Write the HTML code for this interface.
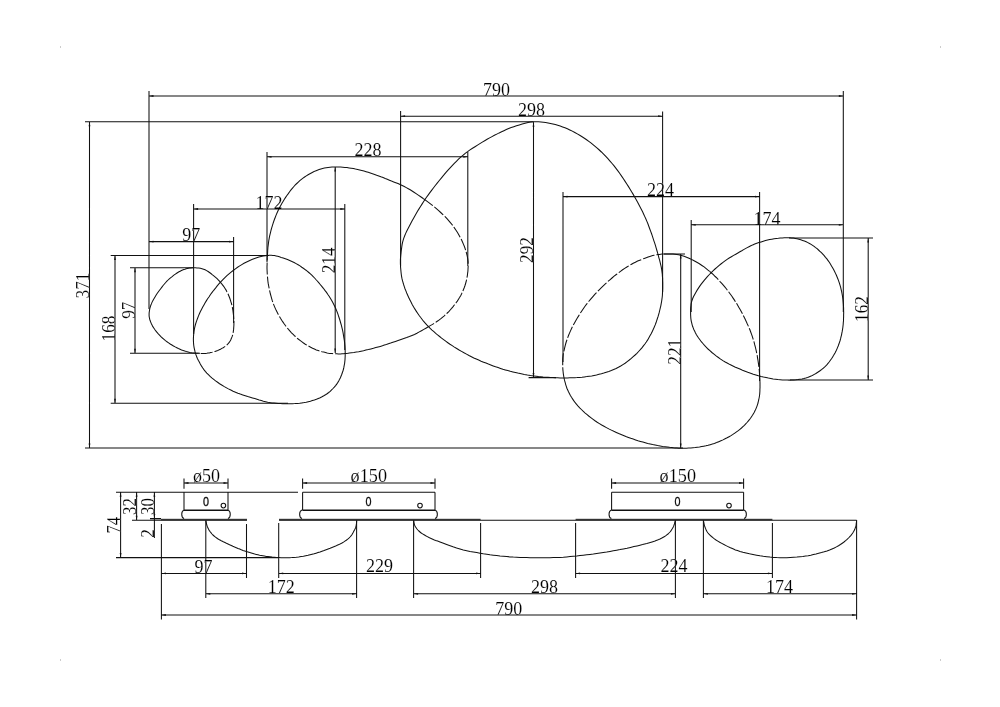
<!DOCTYPE html>
<html><head><meta charset="utf-8"><title>Dimensions</title>
<style>
html,body{margin:0;padding:0;background:#fff}
body{width:1000px;height:707px;overflow:hidden}
svg{display:block}
.g path,.g circle{fill:none;stroke:#111;stroke-width:1.05}
.g path.h{stroke-dasharray:12 2}
.g rect{fill:#333}
.a path{fill:#111;stroke:none}
text{font-family:"Liberation Serif",serif;font-size:19.2px;fill:#000;stroke:#fff;stroke-width:.12px}
svg{will-change:transform}
text.s{font-family:"Liberation Sans",sans-serif;font-size:12.4px;stroke:#151515;stroke-width:.3px}
</style></head><body>
<svg width="1000" height="707" viewBox="0 0 1000 707">
<rect width="1000" height="707" fill="#fff"/>
<g fill="#999"><rect x="60" y="46.5" width="1" height="1"/><rect x="940" y="46.5" width="1" height="1"/><rect x="60" y="659.5" width="1" height="1"/><rect x="940" y="659.5" width="1" height="1"/></g>
<g class="g">
<path d="M149.0,96.0 L843.3,96.0 M149.0,91.0 L149.0,309.0 M843.3,91.0 L843.3,312.0 M89.5,121.7 L89.5,448.0 M85.0,121.7 L533.5,121.7 M85.0,448.0 L683.0,448.0 M400.6,116.2 L662.6,116.2 M400.6,111.0 L400.6,266.0 M662.6,111.5 L662.6,292.0 M267.0,156.8 L467.8,156.8 M267.0,152.0 L267.0,262.0 M467.8,152.0 L467.8,266.0 M193.6,209.0 L344.8,209.0 M193.6,204.0 L193.6,334.0 M344.8,204.0 L344.8,350.0 M149.0,241.6 L233.6,241.6 M233.6,237.0 L233.6,323.0 M563.0,196.6 L759.6,196.6 M563.0,192.0 L563.0,362.0 M759.6,192.0 L759.6,381.0 M691.2,224.8 L843.3,224.8 M691.2,220.0 L691.2,312.0 M335.2,167.0 L335.2,353.0 M533.5,122.3 L533.5,377.6 M528.6,377.6 L556.0,377.6 M680.7,254.0 L680.7,448.0 M664.0,254.0 L685.0,254.0 M868.2,237.9 L868.2,379.9 M789.0,237.9 L873.0,237.9 M790.0,379.9 L873.0,379.9 M115.0,255.5 L115.0,403.2 M110.7,255.5 L269.0,255.5 M110.7,403.2 L288.0,403.2 M135.0,267.8 L135.0,353.3 M130.0,267.8 L193.0,267.8 M130.0,353.3 L200.0,353.3 M116.0,492.3 L298.0,492.3 M116.0,557.6 L278.0,557.6 M120.6,492.3 L120.6,557.6 M136.6,492.3 L136.6,520.2 M132.0,520.2 L247.0,520.2 M279.0,520.2 L856.6,520.2 M154.4,492.3 L154.4,518.6 M154.4,518.6 L154.4,538.0 M150.0,518.6 L161.0,518.6 M184.0,478.4 L184.0,488.8 M228.0,478.4 L228.0,488.8 M184.0,492.3 L184.0,509.8 M228.0,492.3 L228.0,509.8 M184.0,492.3 L228.0,492.3 M184.0,483.0 L228.0,483.0 M184.1,510.0 L227.9,510.0 A3.0,4.4 0 0 1 227.9,518.6 M184.1,510.0 A3.0,4.4 0 0 0 184.1,518.6 M184.0,510.4 L228.0,510.4 M302.6,478.4 L302.6,488.8 M435.0,478.4 L435.0,488.8 M302.6,492.3 L302.6,509.8 M435.0,492.3 L435.0,509.8 M302.6,492.3 L435.0,492.3 M302.6,483.0 L435.0,483.0 M302.0,510.0 L435.0,510.0 A3.0,4.4 0 0 1 435.0,518.6 M302.0,510.0 A3.0,4.4 0 0 0 302.0,518.6 M302.6,510.4 L435.0,510.4 M611.6,478.4 L611.6,488.8 M743.6,478.4 L743.6,488.8 M611.6,492.3 L611.6,509.8 M743.6,492.3 L743.6,509.8 M611.6,492.3 L743.6,492.3 M611.6,483.0 L743.6,483.0 M611.4,510.0 L744.0,510.0 A3.0,4.4 0 0 1 744.0,518.6 M611.4,510.0 A3.0,4.4 0 0 0 611.4,518.6 M611.6,510.4 L743.6,510.4 M161.4,573.4 L246.5,573.4 M161.4,524.0 L161.4,619.5 M246.5,524.0 L246.5,578.0 M205.8,593.8 L356.6,593.8 M205.8,520.2 L205.8,598.0 M356.6,520.2 L356.6,598.0 M278.7,573.4 L480.6,573.4 M278.7,523.0 L278.7,578.0 M480.6,523.0 L480.6,578.0 M413.6,593.8 L675.4,593.8 M413.6,520.2 L413.6,598.0 M675.4,520.2 L675.4,598.0 M575.6,573.4 L772.4,573.4 M575.6,523.0 L575.6,578.0 M772.4,523.0 L772.4,578.0 M703.4,593.8 L856.6,593.8 M703.4,520.2 L703.4,598.0 M856.6,520.2 L856.6,619.5 M161.4,615.0 L856.6,615.0"/>
<path d="M269.4,255.3 L271.2,255.3 L272.9,255.4 L274.5,255.6 L276.1,255.9 L277.7,256.3 L279.4,256.8 L281.2,257.4 L283.2,258.0 L285.3,258.8 L287.5,259.6 L289.7,260.5 L291.9,261.5 L294.1,262.5 L296.1,263.6 L298.1,264.7 L300.0,265.9 L301.8,267.2 L303.7,268.5 L305.4,269.8 L307.2,271.1 L308.8,272.5 L310.4,273.9 L311.8,275.2 L313.2,276.6 L314.6,278.0 L315.9,279.5 L317.3,281.0 L318.7,282.7 L320.2,284.5 L321.8,286.4 L323.4,288.3 L324.9,290.4 L326.5,292.4 L327.9,294.5 L329.3,296.5 L330.5,298.5 L331.7,300.5 L332.8,302.5 L333.8,304.5 L334.8,306.6 L335.8,308.7 L336.7,310.9 L337.6,313.2 L338.4,315.6 L339.2,318.0 L340.0,320.5 L340.7,323.0 L341.4,325.4 L342.0,327.9 L342.6,330.3 L343.1,332.8 L343.5,335.3 L343.9,337.8 L344.3,340.2 L344.6,342.6 L344.8,344.9 L345.0,347.1 L345.1,349.3 L345.2,351.5 L345.2,353.6 L345.2,355.7 L345.1,357.7 L345.0,359.7 L344.8,361.6 L344.6,363.5 L344.2,365.4 L343.9,367.2 L343.5,369.0 L343.0,370.8 L342.4,372.5 L341.8,374.2 L341.1,376.0 L340.4,377.7 L339.6,379.3 L338.7,381.0 L337.7,382.6 L336.7,384.1 L335.6,385.6 L334.3,387.1 L333.0,388.5 L331.6,389.9 L330.2,391.3 L328.7,392.5 L327.1,393.7 L325.5,394.8 L323.8,395.8 L322.0,396.8 L320.2,397.7 L318.3,398.5 L316.4,399.3 L314.4,400.0 L312.4,400.6 L310.4,401.2 L308.3,401.7 L306.2,402.2 L304.1,402.6 L301.8,402.9 L299.6,403.2 L297.3,403.4 L294.8,403.6 L292.4,403.7 L289.9,403.8 L287.4,403.8 L284.9,403.8 L282.6,403.7 L280.4,403.6 L278.2,403.5 L276.1,403.3 L274.0,403.1 L271.9,402.9 L269.8,402.6 L267.7,402.2 L265.6,401.7 L263.4,401.2 L261.3,400.6 L259.2,400.0 L257.0,399.3 L254.8,398.6 L252.5,397.9 L250.2,397.2 L247.7,396.5 L245.3,395.7 L242.8,394.9 L240.3,394.1 L237.9,393.2 L235.5,392.2 L233.1,391.2 L230.8,390.0 L228.4,388.9 L226.1,387.6 L223.9,386.4 L221.7,385.0 L219.6,383.7 L217.6,382.3 L215.6,380.9 L213.7,379.4 L211.8,377.9 L210.1,376.4 L208.4,374.7 L206.8,373.1 L205.3,371.4 L203.9,369.6 L202.6,367.8 L201.4,365.9 L200.3,364.0 L199.3,362.1 L198.3,360.3 L197.4,358.5 L196.7,356.7 L196.0,354.9 L195.4,353.0 L194.9,351.2 L194.5,349.4 L194.1,347.6 L193.8,345.8 L193.6,344.0 L193.5,342.2 L193.4,340.3 L193.4,338.5 L193.5,336.7 L193.6,334.9 L193.8,333.1 L194.0,331.3 L194.3,329.5 L194.7,327.7 L195.1,325.9 L195.6,324.0 L196.2,322.1 L196.9,320.1 L197.7,318.0 L198.5,315.9 L199.4,313.8 L200.4,311.6 L201.5,309.4 L202.6,307.3 L203.8,305.2 L205.0,303.0 L206.3,300.9 L207.6,298.8 L209.1,296.7 L210.5,294.5 L212.1,292.4 L213.7,290.3 L215.5,288.1 L217.2,285.9 L219.1,283.7 L221.0,281.6 L222.9,279.6 L224.9,277.6 L226.9,275.7 L229.0,273.9 L231.1,272.1 L233.2,270.5 L235.4,268.8 L237.6,267.3 L239.7,265.9 L241.8,264.6 L244.0,263.3 L246.1,262.2 L248.2,261.2 L250.3,260.2 L252.5,259.3 L254.6,258.5 L256.7,257.8 L258.9,257.1 L261.1,256.6 L263.3,256.1 L265.4,255.7 L267.4,255.4Z"/>
<path d="M533.5,121.8 L536.1,121.7 L538.6,121.7 L541.0,121.9 L543.4,122.2 L545.7,122.6 L548.1,123.0 L550.5,123.5 L552.9,124.0 L555.3,124.6 L557.7,125.3 L560.2,126.0 L562.6,126.9 L565.0,127.8 L567.4,128.8 L569.8,129.9 L572.3,131.1 L574.8,132.5 L577.3,133.9 L579.7,135.3 L582.1,136.8 L584.4,138.3 L586.6,139.8 L588.8,141.4 L590.9,142.9 L593.0,144.6 L595.1,146.3 L597.2,148.1 L599.3,150.0 L601.4,152.0 L603.6,154.2 L605.8,156.4 L607.9,158.7 L610.0,161.1 L612.1,163.5 L614.1,165.9 L616.0,168.4 L617.9,170.9 L619.8,173.5 L621.6,176.1 L623.4,178.8 L625.1,181.4 L626.8,184.0 L628.5,186.6 L630.1,189.2 L631.6,191.8 L633.2,194.4 L634.7,196.9 L636.1,199.5 L637.5,202.0 L638.8,204.5 L640.1,206.9 L641.4,209.4 L642.6,211.8 L643.7,214.2 L644.8,216.6 L645.9,219.0 L646.9,221.4 L647.9,223.8 L648.8,226.2 L649.7,228.7 L650.6,231.1 L651.5,233.5 L652.3,235.9 L653.1,238.3 L653.9,240.8 L654.7,243.2 L655.5,245.6 L656.2,248.1 L656.9,250.5 L657.6,252.9 L658.3,255.3 L658.9,257.8 L659.6,260.2 L660.2,262.6 L660.8,265.0 L661.3,267.4 L661.7,269.7 L662.0,271.9 L662.3,274.1 L662.4,276.2 L662.6,278.3 L662.6,280.4 L662.7,282.5 L662.7,284.6 L662.7,286.7 L662.7,288.8 L662.6,290.9 L662.5,293.1 L662.4,295.2 L662.2,297.3 L661.9,299.4 L661.6,301.5 L661.2,303.7 L660.8,305.8 L660.3,307.9 L659.8,310.0 L659.3,312.2 L658.7,314.3 L658.1,316.4 L657.4,318.5 L656.7,320.6 L656.0,322.8 L655.2,324.9 L654.3,327.0 L653.4,329.1 L652.4,331.2 L651.3,333.4 L650.1,335.6 L648.9,337.8 L647.7,339.9 L646.3,342.0 L644.9,344.0 L643.4,345.9 L641.9,347.9 L640.3,349.7 L638.6,351.5 L636.9,353.3 L635.1,355.0 L633.2,356.7 L631.3,358.4 L629.3,360.0 L627.2,361.6 L625.1,363.2 L622.9,364.6 L620.7,366.0 L618.4,367.3 L616.1,368.5 L613.7,369.5 L611.3,370.5 L608.8,371.4 L606.3,372.2 L603.8,373.0 L601.4,373.7 L599.0,374.3 L596.5,374.9 L594.1,375.4 L591.7,375.9 L589.3,376.2 L586.8,376.6 L584.4,376.9 L582.0,377.2 L579.5,377.4 L577.1,377.6 L574.7,377.7 L572.2,377.8 L569.8,377.8 L567.4,377.9 L565.0,377.9 L562.6,377.9 L560.1,377.9 L557.7,377.8 L555.3,377.7 L552.9,377.6 L550.5,377.5 L548.1,377.3 L545.6,377.2 L543.1,377.0 L540.7,376.7 L538.4,376.5 L536.1,376.2 L534.0,376.0 L532.1,375.8 L530.5,375.6 L528.9,375.3 L527.4,375.1 L525.9,374.8 L524.2,374.5 L522.3,374.1 L520.1,373.6 L517.8,373.1 L515.4,372.5 L512.9,371.9 L510.3,371.3 L507.8,370.6 L505.3,369.9 L502.9,369.2 L500.5,368.4 L498.1,367.6 L495.6,366.8 L493.2,365.9 L490.8,365.0 L488.4,364.1 L486.0,363.1 L483.6,362.2 L481.1,361.2 L478.7,360.1 L476.3,359.0 L473.8,357.9 L471.4,356.7 L469.0,355.5 L466.5,354.1 L464.0,352.8 L461.5,351.4 L459.1,350.0 L456.7,348.5 L454.4,347.1 L452.2,345.6 L450.0,344.2 L447.8,342.7 L445.7,341.2 L443.6,339.6 L441.6,338.1 L439.6,336.5 L437.6,334.9 L435.7,333.3 L433.9,331.7 L432.0,330.1 L430.2,328.4 L428.5,326.7 L426.8,324.9 L425.2,323.1 L423.5,321.2 L422.0,319.2 L420.5,317.3 L419.0,315.3 L417.6,313.2 L416.2,311.1 L414.8,308.9 L413.5,306.7 L412.2,304.4 L411.0,302.1 L409.8,299.7 L408.7,297.4 L407.7,295.2 L406.7,293.0 L405.9,290.9 L405.0,288.7 L404.3,286.6 L403.6,284.5 L403.0,282.4 L402.4,280.3 L401.9,278.2 L401.5,276.0 L401.2,273.8 L401.0,271.7 L400.8,269.6 L400.6,267.5 L400.5,265.5 L400.4,263.6 L400.4,261.8 L400.4,260.1 L400.5,258.3 L400.6,256.6 L400.8,254.8 L401.0,252.9 L401.2,250.9 L401.5,248.9 L401.8,246.8 L402.1,244.7 L402.5,242.6 L403.1,240.3 L403.8,238.1 L404.7,235.8 L405.7,233.4 L406.8,231.0 L408.1,228.5 L409.4,226.0 L410.7,223.5 L412.0,221.1 L413.3,218.7 L414.7,216.2 L416.1,213.8 L417.5,211.3 L419.0,208.9 L420.5,206.5 L422.0,204.1 L423.5,201.8 L425.0,199.5 L426.5,197.3 L428.1,195.1 L429.7,192.9 L431.4,190.6 L433.2,188.2 L435.1,185.7 L437.2,183.1 L439.3,180.5 L441.5,177.8 L443.7,175.2 L445.8,172.6 L448.0,170.2 L450.1,167.9 L452.2,165.6 L454.3,163.4 L456.4,161.3 L458.5,159.2 L460.7,157.2 L462.9,155.3 L465.2,153.4 L467.6,151.7 L470.0,149.9 L472.5,148.3 L475.0,146.7 L477.5,145.1 L479.9,143.6 L482.3,142.1 L484.7,140.7 L487.1,139.3 L489.6,137.9 L492.0,136.6 L494.4,135.3 L496.8,134.1 L499.2,132.9 L501.6,131.8 L503.9,130.7 L506.3,129.6 L508.7,128.6 L511.2,127.6 L513.8,126.7 L516.5,125.8 L519.3,124.9 L522.2,124.1 L525.1,123.3 L528.0,122.6 L530.8,122.1Z"/>
<path d="M782.4,237.9 L784.3,237.8 L786.2,237.7 L788.0,237.7 L789.8,237.8 L791.6,237.9 L793.4,238.1 L795.2,238.4 L797.0,238.8 L798.9,239.2 L800.8,239.8 L802.6,240.4 L804.4,241.1 L806.2,241.8 L807.9,242.6 L809.5,243.5 L811.1,244.4 L812.6,245.4 L814.1,246.4 L815.6,247.6 L817.1,248.7 L818.5,250.0 L819.9,251.3 L821.4,252.7 L822.8,254.2 L824.2,255.7 L825.5,257.3 L826.9,258.9 L828.1,260.6 L829.3,262.3 L830.4,264.1 L831.5,265.9 L832.6,267.7 L833.6,269.6 L834.6,271.5 L835.5,273.4 L836.4,275.3 L837.2,277.2 L838.0,279.2 L838.7,281.2 L839.4,283.2 L840.0,285.2 L840.6,287.2 L841.1,289.3 L841.6,291.4 L842.0,293.5 L842.4,295.6 L842.7,297.7 L843.0,299.9 L843.2,302.0 L843.4,304.1 L843.5,306.3 L843.6,308.5 L843.6,310.7 L843.7,312.8 L843.6,314.9 L843.6,316.9 L843.5,318.8 L843.5,320.7 L843.3,322.5 L843.2,324.3 L843.0,326.0 L842.8,327.8 L842.5,329.6 L842.2,331.4 L841.8,333.3 L841.5,335.1 L841.0,336.9 L840.6,338.7 L840.1,340.5 L839.5,342.3 L838.9,344.0 L838.3,345.7 L837.6,347.4 L836.9,349.1 L836.1,350.8 L835.3,352.4 L834.4,354.0 L833.5,355.6 L832.5,357.2 L831.5,358.8 L830.4,360.3 L829.3,361.8 L828.2,363.2 L827.0,364.6 L825.8,365.9 L824.5,367.1 L823.1,368.3 L821.8,369.4 L820.4,370.5 L818.9,371.5 L817.4,372.5 L815.9,373.5 L814.3,374.4 L812.7,375.3 L811.1,376.1 L809.4,376.8 L807.6,377.5 L805.8,378.1 L803.9,378.6 L802.0,379.0 L799.9,379.3 L797.9,379.6 L795.8,379.8 L793.7,379.9 L791.5,380.0 L789.3,380.1 L787.1,380.0 L784.8,380.0 L782.5,379.9 L780.2,379.7 L777.9,379.5 L775.5,379.2 L773.1,378.9 L770.8,378.5 L768.4,378.1 L766.0,377.6 L763.5,377.1 L761.0,376.5 L758.5,375.8 L755.9,375.0 L753.3,374.2 L750.6,373.3 L747.8,372.3 L745.1,371.2 L742.5,370.2 L739.9,369.1 L737.4,368.0 L734.9,366.9 L732.4,365.7 L730.0,364.6 L727.6,363.3 L725.2,362.0 L722.9,360.6 L720.6,359.1 L718.4,357.5 L716.1,355.9 L714.0,354.2 L711.9,352.5 L709.9,350.7 L708.0,349.0 L706.2,347.2 L704.5,345.4 L702.9,343.5 L701.3,341.7 L699.9,339.8 L698.6,338.0 L697.4,336.2 L696.3,334.5 L695.4,332.8 L694.6,331.1 L693.8,329.5 L693.2,327.9 L692.6,326.3 L692.1,324.6 L691.7,322.9 L691.3,321.3 L691.0,319.6 L690.8,318.0 L690.7,316.3 L690.6,314.6 L690.6,312.9 L690.6,311.1 L690.6,309.4 L690.7,307.6 L690.9,305.8 L691.1,303.9 L691.5,302.1 L692.1,300.2 L692.8,298.3 L693.7,296.3 L694.7,294.4 L695.8,292.4 L697.0,290.4 L698.3,288.4 L699.6,286.4 L701.0,284.4 L702.6,282.4 L704.2,280.4 L705.9,278.4 L707.6,276.4 L709.4,274.5 L711.2,272.6 L713.0,270.8 L715.0,269.0 L716.9,267.3 L718.9,265.6 L720.9,264.0 L723.0,262.4 L725.0,260.9 L727.1,259.4 L729.2,258.0 L731.4,256.7 L733.6,255.4 L735.8,254.2 L737.9,253.0 L739.9,251.8 L741.8,250.7 L743.6,249.6 L745.4,248.6 L747.2,247.6 L749.0,246.7 L750.8,245.8 L752.7,244.9 L754.7,244.1 L756.8,243.3 L758.9,242.6 L761.1,241.9 L763.3,241.2 L765.5,240.6 L767.6,240.1 L769.7,239.6 L771.9,239.2 L774.1,238.8 L776.2,238.5 L778.3,238.3 L780.4,238.0Z"/>
<path class="h" d="M220.3,282.1 L221.3,283.3 L222.3,284.6 L223.3,285.9 L224.3,287.3 L225.2,288.7 L226.1,290.1 L226.9,291.7 L227.7,293.2 L228.4,294.8 L229.1,296.5 L229.8,298.3 L230.4,300.1 L230.9,301.8 L231.5,303.6 L231.9,305.3 L232.3,307.0 L232.6,308.6 L232.9,310.3 L233.1,311.9 L233.3,313.5 L233.5,315.1 L233.6,316.6 L233.7,318.1 L233.8,319.5 L233.9,320.9 L233.9,322.3 L233.9,323.7 L233.9,325.1 L233.8,326.5 L233.7,327.9 L233.6,329.4 L233.4,330.9 L233.2,332.3 L232.9,333.7 L232.6,335.1 L232.2,336.4 L231.7,337.6 L231.2,338.8 L230.7,340.0 L230.1,341.1 L229.4,342.2 L228.6,343.2 L227.7,344.2 L226.7,345.1 L225.6,346.0 L224.4,346.9 L223.2,347.7 L221.8,348.4 L220.5,349.2 L219.2,349.8 L217.8,350.4 L216.4,350.9 L215.0,351.4 L213.5,351.9 L212.1,352.3 L210.7,352.6 L209.3,352.9 L208.0,353.1 L206.8,353.3 L205.6,353.4 L204.5,353.5 L203.2,353.5 L201.9,353.5 L200.5,353.4 L198.9,353.3 L197.2,353.2"/>
<path d="M197.2,353.2 L195.4,353.1 L193.5,352.9 L191.7,352.7 L189.8,352.4 L188.1,352.0 L186.4,351.6 L184.8,351.1 L183.2,350.5 L181.6,349.9 L180.0,349.2 L178.4,348.5 L176.8,347.7 L175.2,346.9 L173.5,346.0 L171.9,345.0 L170.2,344.0 L168.6,342.9 L167.0,341.8 L165.5,340.6 L164.0,339.3 L162.4,338.0 L160.9,336.6 L159.5,335.1 L158.1,333.6 L156.8,332.1 L155.6,330.7 L154.6,329.3 L153.6,327.8 L152.7,326.4 L152.0,324.9 L151.3,323.5 L150.7,322.1 L150.2,320.8 L149.8,319.5 L149.5,318.3 L149.3,317.1 L149.1,316.0 L149.1,314.8 L149.1,313.6 L149.2,312.3 L149.4,311.0 L149.6,309.6 L149.9,308.2 L150.3,306.8 L150.8,305.3 L151.4,303.9 L152.0,302.4 L152.7,300.9 L153.5,299.4 L154.4,297.9 L155.3,296.4 L156.3,294.8 L157.3,293.3 L158.4,291.8 L159.5,290.3 L160.7,288.7 L161.9,287.1 L163.1,285.5 L164.4,284.0 L165.7,282.5 L166.9,281.2 L168.1,280.0 L169.3,278.8 L170.5,277.8 L171.8,276.8 L173.0,275.8 L174.2,274.9 L175.4,274.1 L176.6,273.3 L177.8,272.5 L179.0,271.8 L180.2,271.2 L181.4,270.6 L182.6,270.1 L183.8,269.6 L185.0,269.2 L186.1,268.8 L187.3,268.5 L188.5,268.2 L189.7,268.0 L190.9,267.9 L192.3,267.8 L193.8,267.8 L195.4,267.8 L197.0,267.9 L198.7,268.1 L200.4,268.3 L202.0,268.7 L203.6,269.2 L205.1,269.8 L206.6,270.6 L208.1,271.5 L209.5,272.5 L210.9,273.5 L212.2,274.6 L213.5,275.6 L214.7,276.6 L215.9,277.6 L217.1,278.7 L218.2,279.8 L219.2,280.9 L220.3,282.1"/>
<path class="h" d="M423.2,198.5 L425.8,200.4 L428.5,202.3 L431.1,204.3 L433.7,206.4 L436.1,208.4 L438.4,210.4 L440.7,212.5 L442.9,214.6 L445.1,216.7 L447.2,218.9 L449.1,221.1 L451.0,223.3 L452.8,225.6 L454.4,227.9 L456.0,230.2 L457.5,232.5 L458.9,234.9 L460.2,237.3 L461.4,239.6 L462.5,242.0 L463.5,244.4 L464.5,246.8 L465.3,249.2 L466.0,251.5 L466.7,253.8 L467.2,256.0 L467.6,258.1 L467.9,260.0 L468.1,261.9 L468.1,263.7 L468.2,265.5 L468.1,267.4 L468.0,269.3 L467.9,271.3 L467.6,273.3 L467.4,275.3 L467.0,277.4 L466.6,279.4 L466.2,281.5 L465.6,283.5 L465.0,285.5 L464.3,287.5 L463.5,289.5 L462.7,291.5 L461.8,293.4 L460.8,295.4 L459.7,297.3 L458.5,299.2 L457.3,301.1 L455.9,303.0 L454.5,304.8 L453.1,306.6 L451.6,308.4 L450.2,310.0 L448.8,311.6 L447.3,313.0 L445.8,314.4 L444.3,315.8 L442.7,317.1 L441.2,318.4 L439.6,319.6 L438.0,320.8 L436.5,321.8 L434.9,322.9 L433.3,323.9 L431.6,324.9 L429.8,325.9"/>
<path d="M429.8,325.9 L427.9,327.0 L425.9,328.2 L423.8,329.4 L421.5,330.7 L419.3,331.9 L416.9,333.2 L414.5,334.4 L412.0,335.5 L409.4,336.6 L406.7,337.6 L403.8,338.6 L401.0,339.6 L398.1,340.6 L395.4,341.5 L392.9,342.3 L390.6,343.1 L388.4,343.8 L386.4,344.5 L384.4,345.1 L382.4,345.8 L380.3,346.4 L378.1,347.0 L375.8,347.6 L373.4,348.3 L370.9,348.9 L368.4,349.6 L365.9,350.1 L363.5,350.7 L361.1,351.2 L358.7,351.7 L356.3,352.1 L353.9,352.5 L351.5,352.8 L349.3,353.1 L347.1,353.4"/>
<path class="h" d="M347.1,353.4 L345.2,353.6 L343.5,353.8 L342.0,353.8 L340.6,353.9 L339.3,353.9 L338.1,353.9 L336.9,353.8 L335.6,353.8 L334.4,353.8 L333.2,353.7 L332.1,353.6 L331.0,353.5 L329.8,353.4 L328.5,353.2 L327.1,352.9 L325.5,352.5 L323.8,352.1 L322.0,351.7 L320.1,351.1 L318.2,350.5 L316.3,349.9 L314.4,349.1 L312.6,348.3 L310.7,347.3 L308.9,346.3 L307.1,345.3 L305.3,344.2 L303.5,343.0 L301.7,341.7 L300.0,340.4 L298.2,339.0 L296.5,337.5 L294.8,336.0 L293.2,334.4 L291.5,332.8 L290.0,331.1 L288.5,329.4 L287.0,327.6 L285.6,325.8 L284.3,324.0 L283.0,322.1 L281.7,320.2 L280.5,318.3 L279.4,316.4 L278.3,314.5 L277.3,312.6 L276.3,310.6 L275.4,308.6 L274.5,306.6 L273.7,304.6 L272.9,302.5 L272.2,300.4 L271.6,298.3 L271.0,296.1 L270.4,294.0 L269.9,291.8 L269.4,289.7 L269.0,287.6 L268.6,285.5 L268.2,283.4 L267.9,281.2 L267.7,279.1 L267.5,277.0 L267.3,274.9 L267.2,272.8 L267.1,270.7 L267.0,268.6 L267.0,266.6 L267.1,264.4 L267.1,262.3 L267.2,260.0 L267.3,257.6"/>
<path d="M267.3,257.6 L267.4,255.2 L267.6,252.6 L267.7,250.1 L267.9,247.5 L268.2,245.1 L268.5,242.7 L268.8,240.5 L269.2,238.3 L269.6,236.2 L270.1,234.1 L270.6,232.1 L271.1,230.0 L271.7,227.9 L272.3,225.8 L273.0,223.6 L273.7,221.5 L274.5,219.3 L275.3,217.2 L276.1,215.1 L277.0,213.0 L277.9,211.0 L278.9,209.0 L279.9,207.0 L281.0,205.0 L282.1,203.1 L283.2,201.2 L284.4,199.3 L285.6,197.4 L286.9,195.5 L288.3,193.6 L289.6,191.7 L291.0,189.9 L292.5,188.1 L293.9,186.5 L295.3,184.9 L296.8,183.5 L298.3,182.1 L299.8,180.7 L301.4,179.4 L303.0,178.2 L304.6,177.0 L306.3,175.9 L308.1,174.7 L309.9,173.7 L311.8,172.7 L313.6,171.8 L315.5,170.9 L317.3,170.2 L319.1,169.6 L320.9,169.0 L322.6,168.5 L324.4,168.1 L326.2,167.8 L328.1,167.5 L330.0,167.3 L332.0,167.1 L334.1,167.0 L336.2,167.0 L338.4,167.0 L340.6,167.1 L342.8,167.2 L344.9,167.4 L347.0,167.6 L349.1,167.9 L351.2,168.2 L353.4,168.6 L355.5,169.1 L357.6,169.5 L359.7,170.0 L361.8,170.5 L364.0,171.1 L366.1,171.7 L368.2,172.3 L370.3,173.0 L372.5,173.7 L374.6,174.4 L376.7,175.2 L378.8,175.9 L380.9,176.8 L383.1,177.6 L385.2,178.5 L387.3,179.3 L389.4,180.2 L391.5,181.1 L393.7,181.9 L395.8,182.7 L398.0,183.6 L400.1,184.5 L402.2,185.5 L404.3,186.5 L406.3,187.6 L408.3,188.7 L410.2,189.8 L412.1,191.0 L414.0,192.2 L416.1,193.6 L418.3,195.1 L420.7,196.7 L423.2,198.5"/>
<path class="h" d="M709.6,271.3 L711.5,273.0 L713.4,274.7 L715.2,276.5 L717.0,278.2 L718.7,280.0 L720.3,281.8 L722.0,283.6 L723.5,285.4 L725.0,287.2 L726.5,289.0 L727.9,290.9 L729.3,292.7 L730.6,294.5 L731.9,296.3 L733.1,298.1 L734.3,299.9 L735.5,301.8 L736.7,303.6 L737.8,305.5 L738.9,307.4 L740.0,309.3 L741.1,311.3 L742.2,313.3 L743.2,315.3 L744.2,317.3 L745.2,319.3 L746.2,321.4 L747.1,323.5 L748.1,325.6 L749.0,327.7 L749.9,329.8 L750.7,332.0 L751.5,334.1 L752.2,336.2 L752.9,338.4 L753.6,340.5 L754.2,342.6 L754.7,344.7 L755.3,346.9 L755.8,349.0 L756.3,351.1 L756.7,353.3 L757.2,355.5 L757.5,357.7 L757.9,359.8 L758.2,361.9 L758.5,363.8 L758.7,365.6 L759.0,367.3 L759.1,368.9 L759.3,370.5 L759.4,372.1 L759.5,373.7 L759.6,375.4"/>
<path d="M759.6,375.4 L759.7,377.2 L759.8,379.0 L759.9,380.8 L760.0,382.6 L760.0,384.4 L760.0,386.2 L760.0,387.9 L759.9,389.5 L759.9,391.1 L759.8,392.6 L759.7,394.1 L759.5,395.5 L759.3,397.0 L759.0,398.5 L758.7,400.0 L758.3,401.5 L758.0,403.0 L757.5,404.6 L757.0,406.1 L756.4,407.6 L755.8,409.1 L755.1,410.6 L754.3,412.2 L753.4,413.7 L752.5,415.2 L751.5,416.7 L750.5,418.2 L749.4,419.7 L748.2,421.1 L747.0,422.5 L745.7,423.9 L744.4,425.3 L742.9,426.7 L741.5,428.0 L739.9,429.3 L738.3,430.6 L736.5,431.9 L734.8,433.1 L732.9,434.4 L731.0,435.6 L729.1,436.7 L727.1,437.8 L725.1,438.8 L723.0,439.9 L720.9,440.8 L718.8,441.7 L716.6,442.6 L714.4,443.4 L712.3,444.1 L710.2,444.7 L708.1,445.3 L705.9,445.8 L703.8,446.2 L701.7,446.6 L699.5,447.0 L697.4,447.3 L695.2,447.6 L693.0,447.8 L690.8,448.0 L688.6,448.1 L686.4,448.2 L684.3,448.3 L682.3,448.3 L680.4,448.3 L678.6,448.2 L676.9,448.1 L675.2,448.0 L673.5,447.8 L671.6,447.5 L669.6,447.3 L667.4,447.0 L665.1,446.7 L662.6,446.4 L660.1,446.0 L657.6,445.6 L655.1,445.1 L652.6,444.6 L650.2,444.0 L647.7,443.5 L645.3,442.8 L642.9,442.1 L640.4,441.4 L638.0,440.7 L635.6,439.9 L633.2,439.1 L630.8,438.3 L628.4,437.4 L625.9,436.5 L623.5,435.5 L621.1,434.5 L618.7,433.5 L616.3,432.4 L613.8,431.3 L611.3,430.1 L608.8,428.9 L606.4,427.6 L604.0,426.3 L601.7,425.0 L599.4,423.6 L597.2,422.2 L595.0,420.7 L592.8,419.1 L590.8,417.6 L588.7,416.0 L586.8,414.4 L584.9,412.8 L583.1,411.2 L581.4,409.5 L579.7,407.8 L578.1,406.1 L576.6,404.4 L575.2,402.7 L573.9,400.9 L572.7,399.1 L571.5,397.3 L570.4,395.5 L569.5,393.7 L568.5,391.8 L567.7,390.0 L566.9,388.2 L566.3,386.4 L565.7,384.6 L565.2,382.7 L564.7,380.9 L564.3,379.1"/>
<path class="h" d="M564.3,379.1 L563.9,377.3 L563.6,375.5 L563.3,373.6 L563.1,371.8 L562.9,369.9 L562.8,368.1 L562.7,366.3 L562.7,364.5 L562.7,362.8 L562.7,361.2 L562.7,359.6 L562.8,358.0 L563.0,356.3 L563.2,354.5 L563.6,352.5 L564.1,350.3 L564.6,348.0 L565.2,345.6 L565.9,343.0 L566.7,340.5 L567.6,338.0 L568.5,335.5 L569.5,333.1 L570.6,330.6 L571.7,328.2 L572.9,325.8 L574.2,323.4 L575.6,320.9 L577.0,318.5 L578.5,316.1 L580.0,313.6 L581.6,311.2 L583.3,308.7 L585.0,306.3 L586.8,303.9 L588.7,301.5 L590.7,299.1 L592.7,296.8 L594.8,294.4 L597.0,292.1 L599.2,289.9 L601.4,287.7 L603.5,285.6 L605.6,283.6 L607.8,281.6 L609.9,279.8 L612.0,278.0 L614.1,276.2 L616.3,274.5 L618.4,272.9 L620.5,271.3 L622.6,269.8 L624.7,268.4 L626.9,267.0 L629.0,265.7 L631.1,264.5 L633.2,263.3 L635.4,262.2 L637.6,261.1 L639.8,260.2 L642.1,259.3 L644.2,258.4 L646.2,257.7 L648.1,257.0 L649.8,256.4 L651.3,256.0 L652.7,255.6 L654.0,255.3 L655.3,255.0 L656.6,254.8 L658.0,254.6"/>
<path d="M658.0,254.6 L659.4,254.4 L660.7,254.2 L662.0,254.1 L663.3,254.0 L664.7,253.9 L666.2,253.9 L667.7,253.9 L669.4,253.9 L671.1,254.0 L673.0,254.1 L674.9,254.3 L676.8,254.5 L678.6,254.8 L680.5,255.2 L682.3,255.7 L684.1,256.3 L685.9,257.0 L687.8,257.7 L689.6,258.5 L691.4,259.4 L693.2,260.3 L695.0,261.3 L696.8,262.3 L698.6,263.3 L700.5,264.5 L702.3,265.7 L704.1,266.9 L705.9,268.3 L707.7,269.8 L709.6,271.3"/>
<path d="M205.8,520.4 L206.1,521.5 L206.3,522.6 L206.5,523.7 L206.7,524.8 L207.1,525.9 L207.5,527.0 L208.1,528.2 L208.7,529.4 L209.4,530.6 L210.2,531.8 L211.1,532.9 L212.0,534.0 L213.0,535.0 L214.1,536.0 L215.2,536.9 L216.4,537.8 L217.7,538.7 L219.0,539.5 L220.4,540.3 L221.8,541.1 L223.3,541.8 L224.9,542.5 L226.4,543.3 L228.0,544.0 L229.6,544.8 L231.3,545.5 L232.9,546.3 L234.6,547.1 L236.3,547.8 L238.0,548.5 L239.7,549.1 L241.3,549.8 L243.0,550.4 L244.7,550.9 L246.3,551.5 L248.0,552.0 L249.7,552.5 L251.3,553.0 L253.0,553.5 L254.7,554.0 L256.3,554.4 L258.0,554.8 L259.6,555.2 L261.2,555.5 L262.8,555.8 L264.4,556.1 L266.2,556.4 L268.0,556.6 L270.0,556.8 L272.1,557.1 L274.3,557.3 L276.6,557.5 L278.8,557.6 L281.0,557.7 L283.2,557.8 L285.3,557.8 L287.4,557.8 L289.6,557.7 L291.8,557.6 L294.0,557.4 L296.3,557.2 L298.7,556.9 L301.1,556.5 L303.4,556.2 L305.8,555.7 L308.0,555.3 L310.1,554.8 L312.1,554.3 L314.1,553.8 L316.1,553.2 L318.0,552.6 L320.0,552.0 L322.0,551.3 L324.1,550.6 L326.1,549.8 L328.1,549.0 L330.1,548.3 L332.0,547.5 L333.8,546.8 L335.6,546.1 L337.2,545.3 L338.9,544.6 L340.5,543.8 L342.0,543.0 L343.5,542.1 L344.9,541.1 L346.3,540.2 L347.7,539.1 L348.9,538.1 L350.0,537.0 L351.0,535.9 L351.9,534.7 L352.6,533.4 L353.3,532.2 L353.9,531.1 L354.5,530.0 L355.0,529.0 L355.4,528.2 L355.7,527.4 L355.9,526.6 L356.1,525.8 L356.3,525.0 L356.4,524.2 L356.5,523.4 L356.5,522.7 L356.6,521.9 L356.6,521.2 L356.6,520.4"/>
<path d="M413.6,520.4 L413.8,521.3 L413.9,522.3 L414.1,523.2 L414.3,524.1 L414.6,525.0 L415.0,526.0 L415.6,527.0 L416.3,528.0 L417.0,529.0 L417.9,530.0 L418.9,531.0 L420.0,532.0 L421.2,533.0 L422.6,533.9 L424.1,534.8 L425.7,535.8 L427.3,536.6 L429.0,537.5 L430.6,538.3 L432.2,539.0 L433.8,539.7 L435.6,540.4 L437.6,541.1 L440.0,542.0 L442.8,543.1 L446.0,544.3 L449.4,545.5 L453.0,546.8 L456.6,548.0 L460.0,549.0 L463.3,549.9 L466.7,550.7 L470.0,551.4 L473.3,552.0 L476.7,552.6 L480.0,553.2 L483.3,553.8 L486.7,554.3 L490.0,554.8 L493.3,555.2 L496.7,555.6 L500.0,556.0 L503.3,556.3 L506.7,556.6 L510.0,556.9 L513.3,557.1 L516.7,557.2 L520.0,557.4 L523.3,557.5 L526.7,557.6 L530.0,557.7 L533.3,557.7 L536.7,557.7 L540.0,557.7 L543.3,557.7 L546.7,557.7 L550.0,557.7 L553.3,557.6 L556.7,557.5 L560.0,557.4 L563.3,557.2 L566.7,556.9 L570.0,556.6 L573.3,556.3 L576.7,556.0 L580.0,555.6 L583.3,555.2 L586.7,554.8 L590.0,554.4 L593.3,554.0 L596.7,553.5 L600.0,553.0 L603.3,552.5 L606.7,552.0 L610.0,551.4 L613.3,550.8 L616.7,550.2 L620.0,549.6 L623.4,548.9 L627.0,548.2 L630.5,547.4 L633.9,546.6 L637.1,545.9 L640.0,545.2 L642.5,544.6 L644.7,544.0 L646.8,543.5 L648.6,543.0 L650.3,542.5 L652.0,542.0 L653.6,541.5 L655.0,541.1 L656.2,540.6 L657.5,540.1 L658.7,539.6 L660.0,539.0 L661.4,538.3 L662.8,537.5 L664.2,536.7 L665.6,535.9 L666.8,534.9 L668.0,534.0 L669.0,533.0 L670.0,532.0 L670.9,530.9 L671.6,529.8 L672.4,528.6 L673.0,527.5 L673.6,526.4 L674.0,525.2 L674.4,524.0 L674.7,522.8 L675.0,521.6 L675.4,520.4"/>
<path d="M703.4,520.4 L703.6,521.3 L703.7,522.2 L703.9,523.1 L704.0,524.0 L704.3,525.0 L704.6,526.0 L705.0,527.1 L705.4,528.2 L705.9,529.4 L706.4,530.6 L707.1,531.8 L708.0,533.0 L709.0,534.2 L710.2,535.3 L711.5,536.5 L712.9,537.7 L714.4,538.9 L716.0,540.0 L717.8,541.1 L719.7,542.3 L721.8,543.4 L723.9,544.5 L726.0,545.6 L728.0,546.6 L729.9,547.5 L731.7,548.3 L733.5,549.1 L735.4,549.9 L737.5,550.6 L740.0,551.4 L742.9,552.2 L746.1,553.0 L749.5,553.8 L753.0,554.5 L756.6,555.2 L760.0,555.8 L763.3,556.3 L766.7,556.7 L770.0,557.1 L773.3,557.4 L776.7,557.6 L780.0,557.7 L783.4,557.7 L786.8,557.7 L790.2,557.5 L793.6,557.3 L796.9,557.1 L800.0,556.8 L802.9,556.5 L805.6,556.1 L808.2,555.7 L810.8,555.2 L813.4,554.6 L816.0,554.0 L818.7,553.3 L821.5,552.6 L824.2,551.8 L827.0,550.9 L829.6,550.0 L832.0,549.0 L834.3,548.0 L836.4,546.9 L838.5,545.7 L840.4,544.5 L842.3,543.2 L844.0,542.0 L845.6,540.7 L847.1,539.4 L848.5,538.0 L849.8,536.6 L851.0,535.3 L852.0,534.0 L852.9,532.8 L853.6,531.6 L854.2,530.4 L854.8,529.3 L855.2,528.1 L855.6,527.0 L855.9,525.9 L856.1,524.8 L856.3,523.7 L856.4,522.6 L856.5,521.5 L856.6,520.4"/>
<rect x="161.0" y="518.8" width="86.0" height="1.6"/><rect x="279.0" y="518.8" width="201.6" height="1.6"/><rect x="575.6" y="518.8" width="196.8" height="1.6"/>
<circle cx="223.4" cy="505.6" r="2.3"/><circle cx="420.0" cy="505.6" r="2.3"/><circle cx="729.0" cy="505.6" r="2.3"/>
</g>
<g class="a"><path d="M149.0,96.0 L153.5,95.1 L153.5,96.9 Z M843.3,96.0 L838.8,96.9 L838.8,95.1 Z M89.5,121.7 L90.4,126.2 L88.6,126.2 Z M89.5,448.0 L88.6,443.5 L90.4,443.5 Z M400.6,116.2 L405.1,115.3 L405.1,117.1 Z M662.6,116.2 L658.1,117.1 L658.1,115.3 Z M267.0,156.8 L271.5,155.9 L271.5,157.7 Z M467.8,156.8 L463.3,157.7 L463.3,155.9 Z M193.6,209.0 L198.1,208.1 L198.1,209.9 Z M344.8,209.0 L340.3,209.9 L340.3,208.1 Z M149.0,241.6 L153.5,240.7 L153.5,242.5 Z M233.6,241.6 L229.1,242.5 L229.1,240.7 Z M563.0,196.6 L567.5,195.7 L567.5,197.5 Z M759.6,196.6 L755.1,197.5 L755.1,195.7 Z M691.2,224.8 L695.7,223.9 L695.7,225.7 Z M843.3,224.8 L838.8,225.7 L838.8,223.9 Z M335.2,167.0 L336.1,171.5 L334.3,171.5 Z M335.2,353.0 L334.3,348.5 L336.1,348.5 Z M533.5,122.3 L534.4,126.8 L532.6,126.8 Z M533.5,377.6 L532.6,373.1 L534.4,373.1 Z M680.7,254.0 L681.6,258.5 L679.8,258.5 Z M680.7,448.0 L679.8,443.5 L681.6,443.5 Z M868.2,237.9 L869.1,242.4 L867.3,242.4 Z M868.2,379.9 L867.3,375.4 L869.1,375.4 Z M115.0,255.5 L115.9,260.0 L114.1,260.0 Z M115.0,403.2 L114.1,398.7 L115.9,398.7 Z M135.0,267.8 L135.9,272.3 L134.1,272.3 Z M135.0,353.3 L134.1,348.8 L135.9,348.8 Z M120.6,492.3 L121.5,496.8 L119.7,496.8 Z M120.6,557.6 L119.7,553.1 L121.5,553.1 Z M136.6,492.3 L137.5,496.8 L135.7,496.8 Z M136.6,520.2 L135.7,515.7 L137.5,515.7 Z M154.4,492.3 L155.3,496.8 L153.5,496.8 Z M154.4,518.6 L153.5,514.1 L155.3,514.1 Z M184.0,483.0 L188.5,482.1 L188.5,483.9 Z M228.0,483.0 L223.5,483.9 L223.5,482.1 Z M302.6,483.0 L307.1,482.1 L307.1,483.9 Z M435.0,483.0 L430.5,483.9 L430.5,482.1 Z M611.6,483.0 L616.1,482.1 L616.1,483.9 Z M743.6,483.0 L739.1,483.9 L739.1,482.1 Z M161.4,573.4 L165.9,572.5 L165.9,574.3 Z M246.5,573.4 L242.0,574.3 L242.0,572.5 Z M205.8,593.8 L210.3,592.9 L210.3,594.7 Z M356.6,593.8 L352.1,594.7 L352.1,592.9 Z M278.7,573.4 L283.2,572.5 L283.2,574.3 Z M480.6,573.4 L476.1,574.3 L476.1,572.5 Z M413.6,593.8 L418.1,592.9 L418.1,594.7 Z M675.4,593.8 L670.9,594.7 L670.9,592.9 Z M575.6,573.4 L580.1,572.5 L580.1,574.3 Z M772.4,573.4 L767.9,574.3 L767.9,572.5 Z M703.4,593.8 L707.9,592.9 L707.9,594.7 Z M856.6,593.8 L852.1,594.7 L852.1,592.9 Z M161.4,615.0 L165.9,614.1 L165.9,615.9 Z M856.6,615.0 L852.1,615.9 L852.1,614.1 Z"/></g>
<g>
<text x="483.0" y="96.0" textLength="27.0" lengthAdjust="spacingAndGlyphs">790</text>
<text x="518.0" y="116.0" textLength="27.0" lengthAdjust="spacingAndGlyphs">298</text>
<text x="354.6" y="156.3" textLength="27.0" lengthAdjust="spacingAndGlyphs">228</text>
<text x="255.5" y="208.7" textLength="27.0" lengthAdjust="spacingAndGlyphs">172</text>
<text x="182.3" y="240.8" textLength="18.0" lengthAdjust="spacingAndGlyphs">97</text>
<text x="647.1" y="196.3" textLength="27.0" lengthAdjust="spacingAndGlyphs">224</text>
<text x="753.4" y="224.5" textLength="27.0" lengthAdjust="spacingAndGlyphs">174</text>
<text transform="translate(88.7,285.5) rotate(-90)" x="-12.9" y="0" textLength="25.8" lengthAdjust="spacingAndGlyphs">371</text>
<text transform="translate(115.2,328.5) rotate(-90)" x="-12.9" y="0" textLength="25.8" lengthAdjust="spacingAndGlyphs">168</text>
<text transform="translate(134.5,310.2) rotate(-90)" x="-8.6" y="0" textLength="17.2" lengthAdjust="spacingAndGlyphs">97</text>
<text transform="translate(335.0,260.4) rotate(-90)" x="-12.9" y="0" textLength="25.8" lengthAdjust="spacingAndGlyphs">214</text>
<text transform="translate(533.4,250.0) rotate(-90)" x="-12.9" y="0" textLength="25.8" lengthAdjust="spacingAndGlyphs">292</text>
<text transform="translate(680.5,351.8) rotate(-90)" x="-12.9" y="0" textLength="25.8" lengthAdjust="spacingAndGlyphs">221</text>
<text transform="translate(868.2,309.0) rotate(-90)" x="-12.9" y="0" textLength="25.8" lengthAdjust="spacingAndGlyphs">162</text>
<text x="193.0" y="482.0" textLength="27.0" lengthAdjust="spacingAndGlyphs">ø50</text>
<text x="350.6" y="482.0" textLength="36.4" lengthAdjust="spacingAndGlyphs">ø150</text>
<text x="659.6" y="482.0" textLength="36.4" lengthAdjust="spacingAndGlyphs">ø150</text>
<text x="194.5" y="572.6" textLength="18.0" lengthAdjust="spacingAndGlyphs">97</text>
<text x="267.8" y="593.0" textLength="27.0" lengthAdjust="spacingAndGlyphs">172</text>
<text x="366.0" y="572.4" textLength="27.0" lengthAdjust="spacingAndGlyphs">229</text>
<text x="531.0" y="593.3" textLength="27.0" lengthAdjust="spacingAndGlyphs">298</text>
<text x="660.5" y="572.4" textLength="27.0" lengthAdjust="spacingAndGlyphs">224</text>
<text x="766.0" y="593.2" textLength="27.0" lengthAdjust="spacingAndGlyphs">174</text>
<text x="495.3" y="614.6" textLength="27.0" lengthAdjust="spacingAndGlyphs">790</text>
<text transform="translate(120.2,525.3) rotate(-90)" x="-8.3" y="0" textLength="16.6" lengthAdjust="spacingAndGlyphs">74</text>
<text transform="translate(136.2,506.5) rotate(-90)" x="-8.5" y="0" textLength="17.0" lengthAdjust="spacingAndGlyphs">32</text>
<text transform="translate(154.0,506.5) rotate(-90)" x="-8.5" y="0" textLength="17.0" lengthAdjust="spacingAndGlyphs">30</text>
<text transform="translate(154.0,533.5) rotate(-90)" x="-4.3" y="0" textLength="8.6" lengthAdjust="spacingAndGlyphs">2</text>
<text class="s" x="203.0" y="505.7" textLength="6" lengthAdjust="spacingAndGlyphs">0</text><text class="s" x="365.6" y="505.7" textLength="6" lengthAdjust="spacingAndGlyphs">0</text><text class="s" x="674.6" y="505.7" textLength="6" lengthAdjust="spacingAndGlyphs">0</text>
</g>
</svg>
</body></html>
